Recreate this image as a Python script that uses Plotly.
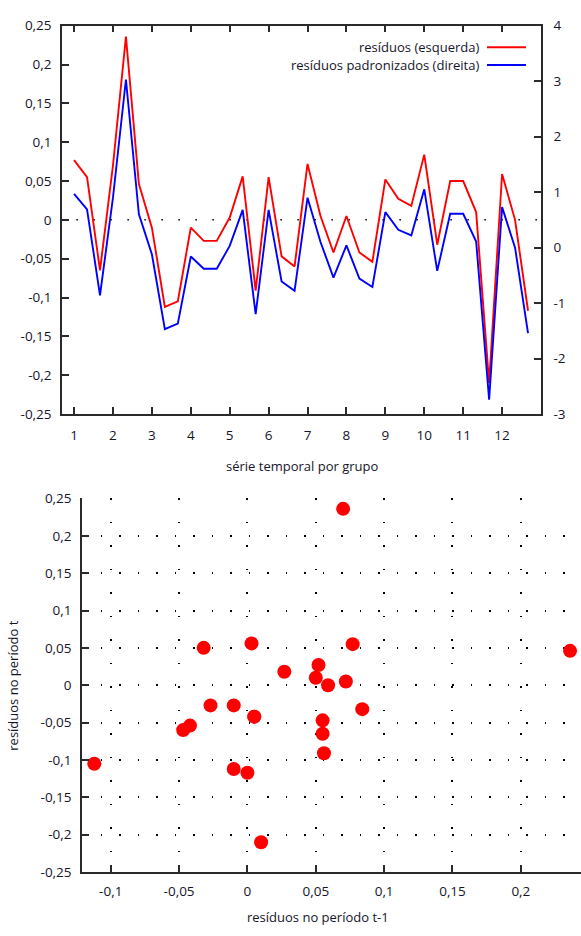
import plotly.graph_objects as go

# ---------------- data ----------------
groups = list(range(1, 13))
periods_per_group = 3

# residuals (left axis), 3 periods per group
residuals = [0.077, 0.055, -0.065,
             0.070, 0.236, 0.046,
             -0.010, -0.112, -0.105,
             -0.010, -0.027, -0.027,
             0.003, 0.056, -0.091,
             0.055, -0.047, -0.060,
             0.072, 0.005, -0.042,
             0.005, -0.042, -0.054,
             0.052, 0.027, 0.018,
             0.084, -0.032, 0.050,
             0.050, 0.010, -0.210,
             0.059, 0.000, -0.117]

# standardized residuals (right axis)
std_residuals = [0.97, 0.69, -0.86,
                 0.90, 3.03, 0.60,
                 -0.12, -1.47, -1.37,
                 -0.16, -0.38, -0.38,
                 0.03, 0.68, -1.20,
                 0.68, -0.61, -0.78,
                 0.90, 0.10, -0.54,
                 0.04, -0.56, -0.71,
                 0.64, 0.32, 0.22,
                 1.05, -0.42, 0.61,
                 0.61, 0.11, -2.74,
                 0.73, 0.00, -1.54]

x_ticks_top = groups
left_tickvals = [-0.25, -0.2, -0.15, -0.1, -0.05, 0, 0.05, 0.1, 0.15, 0.2, 0.25]
left_ticktext = ["-0,25", "-0,2", "-0,15", "-0,1", "-0,05", "0", "0,05", "0,1", "0,15", "0,2", "0,25"]
right_tickvals = [-3, -2, -1, 0, 1, 2, 3, 4]
right_ticktext = ["-3", "-2", "-1", "0", "1", "2", "3", "4"]
lag_tickvals = [-0.1, -0.05, 0, 0.05, 0.1, 0.15, 0.2]
lag_ticktext = ["-0,1", "-0,05", "0", "0,05", "0,1", "0,15", "0,2"]

legend_labels = ["resíduos (esquerda)", "resíduos padronizados (direita)"]
top_xtitle = "série temporal por grupo"
bottom_xtitle = "resíduos no período t-1"
bottom_ytitle = "resíduos no período t"

# ---------------- derived ----------------
xpos = [g + p / periods_per_group for g in groups for p in range(periods_per_group)]
lag_prev, lag_cur = [], []
for gi in range(len(groups)):
    block = residuals[gi * periods_per_group:(gi + 1) * periods_per_group]
    for p in range(1, periods_per_group):
        lag_prev.append(block[p - 1])
        lag_cur.append(block[p])

W, H = 581, 936
def px(x):
    return x / W
def py(y):
    return 1 - y / H

FONT = "Open Sans"
TXT = "#15152a"
AX = "#2a2a2a"

fig = go.Figure()
fig.add_trace(go.Scatter(x=xpos, y=residuals, mode="lines", xaxis="x", yaxis="y",
                         line=dict(color="#ff0000", width=1.9), showlegend=False))
fig.add_trace(go.Scatter(x=xpos, y=std_residuals, mode="lines", xaxis="x", yaxis="y2",
                         line=dict(color="#0000ff", width=1.9), showlegend=False))
fig.add_trace(go.Scatter(x=lag_prev, y=lag_cur, mode="markers", xaxis="x3", yaxis="y3",
                         marker=dict(color="#ff0000", size=14), showlegend=False,
                         cliponaxis=False))

tickfont = dict(family=FONT, size=13.5, color=TXT)
common = dict(ticks="inside", ticklen=7, tickwidth=1.5, tickcolor=AX, showline=True,
              linewidth=1.5, linecolor=AX, zeroline=False, tickfont=tickfont)

fig.update_layout(
    width=W, height=H, margin=dict(l=0, r=0, t=0, b=0),
    paper_bgcolor="white", plot_bgcolor="white", showlegend=False,
    xaxis=dict(domain=[px(62), px(541)], anchor="y", range=[0.69, 13.0],
               tickvals=x_ticks_top, mirror="ticks", showgrid=False,
               ticklabelstandoff=8, **common),
    yaxis=dict(domain=[py(413), py(17)], anchor="x", range=[-0.25, 0.25],
               tickvals=left_tickvals, ticktext=left_ticktext, showgrid=False,
               ticklabelstandoff=6, **common),
    yaxis2=dict(domain=[py(413), py(17)], anchor="x", overlaying="y", side="right",
                range=[-3, 4], tickvals=right_tickvals, ticktext=right_ticktext,
                showgrid=False, ticklabelstandoff=8, **common),
    xaxis3=dict(domain=[px(82), 1.0], anchor="y3", range=[-0.121, 0.244],
                tickvals=lag_tickvals, ticktext=lag_ticktext,
                showgrid=True, gridcolor="#000", gridwidth=1.5, griddash="1.5px,22px",
                ticklabelstandoff=6, **common),
    yaxis3=dict(domain=[py(880), py(499)], anchor="x3", range=[-0.25, 0.25],
                tickvals=left_tickvals, ticktext=left_ticktext,
                showgrid=True, gridcolor="#000", gridwidth=1.5, griddash="1.5px,17px",
                ticklabelstandoff=6, **common),
)

# zero reference line (top chart)
fig.add_shape(type="line", xref="x domain", yref="y", x0=0.03, x1=1, y0=0, y1=0,
              line=dict(color="#000", width=1.5, dash="1.5px,15.5px"), layer="below")

# legend (text left of line sample, as in the reference)
leg_colors = ["#ff0000", "#0000ff"]
leg_y = [39, 57]
for lab, col, yy in zip(legend_labels, leg_colors, leg_y):
    fig.add_annotation(x=px(481), y=py(yy), xref="paper", yref="paper", text=lab,
                       showarrow=False, xanchor="right", yanchor="middle",
                       font=dict(family=FONT, size=13, color=TXT))
    fig.add_shape(type="line", xref="paper", yref="paper", x0=px(487), x1=px(526),
                  y0=py(yy), y1=py(yy), line=dict(color=col, width=2))

# axis titles
fig.add_annotation(x=px(302), y=py(466), xref="paper", yref="paper", text=top_xtitle,
                   showarrow=False, xanchor="center", yanchor="middle",
                   font=dict(family=FONT, size=13, color=TXT))
fig.add_annotation(x=px(318), y=py(926), xref="paper", yref="paper", text=bottom_xtitle,
                   showarrow=False, xanchor="center", yanchor="middle",
                   font=dict(family=FONT, size=13, color=TXT))
fig.add_annotation(x=px(13), y=py(690), xref="paper", yref="paper", text=bottom_ytitle,
                   showarrow=False, xanchor="center", yanchor="middle", textangle=-90,
                   font=dict(family=FONT, size=13, color=TXT))

fig.write_html("out.html", config={"displayModeBar": False},
               post_script="document.body.style.margin='0';document.body.style.overflow='hidden';")
